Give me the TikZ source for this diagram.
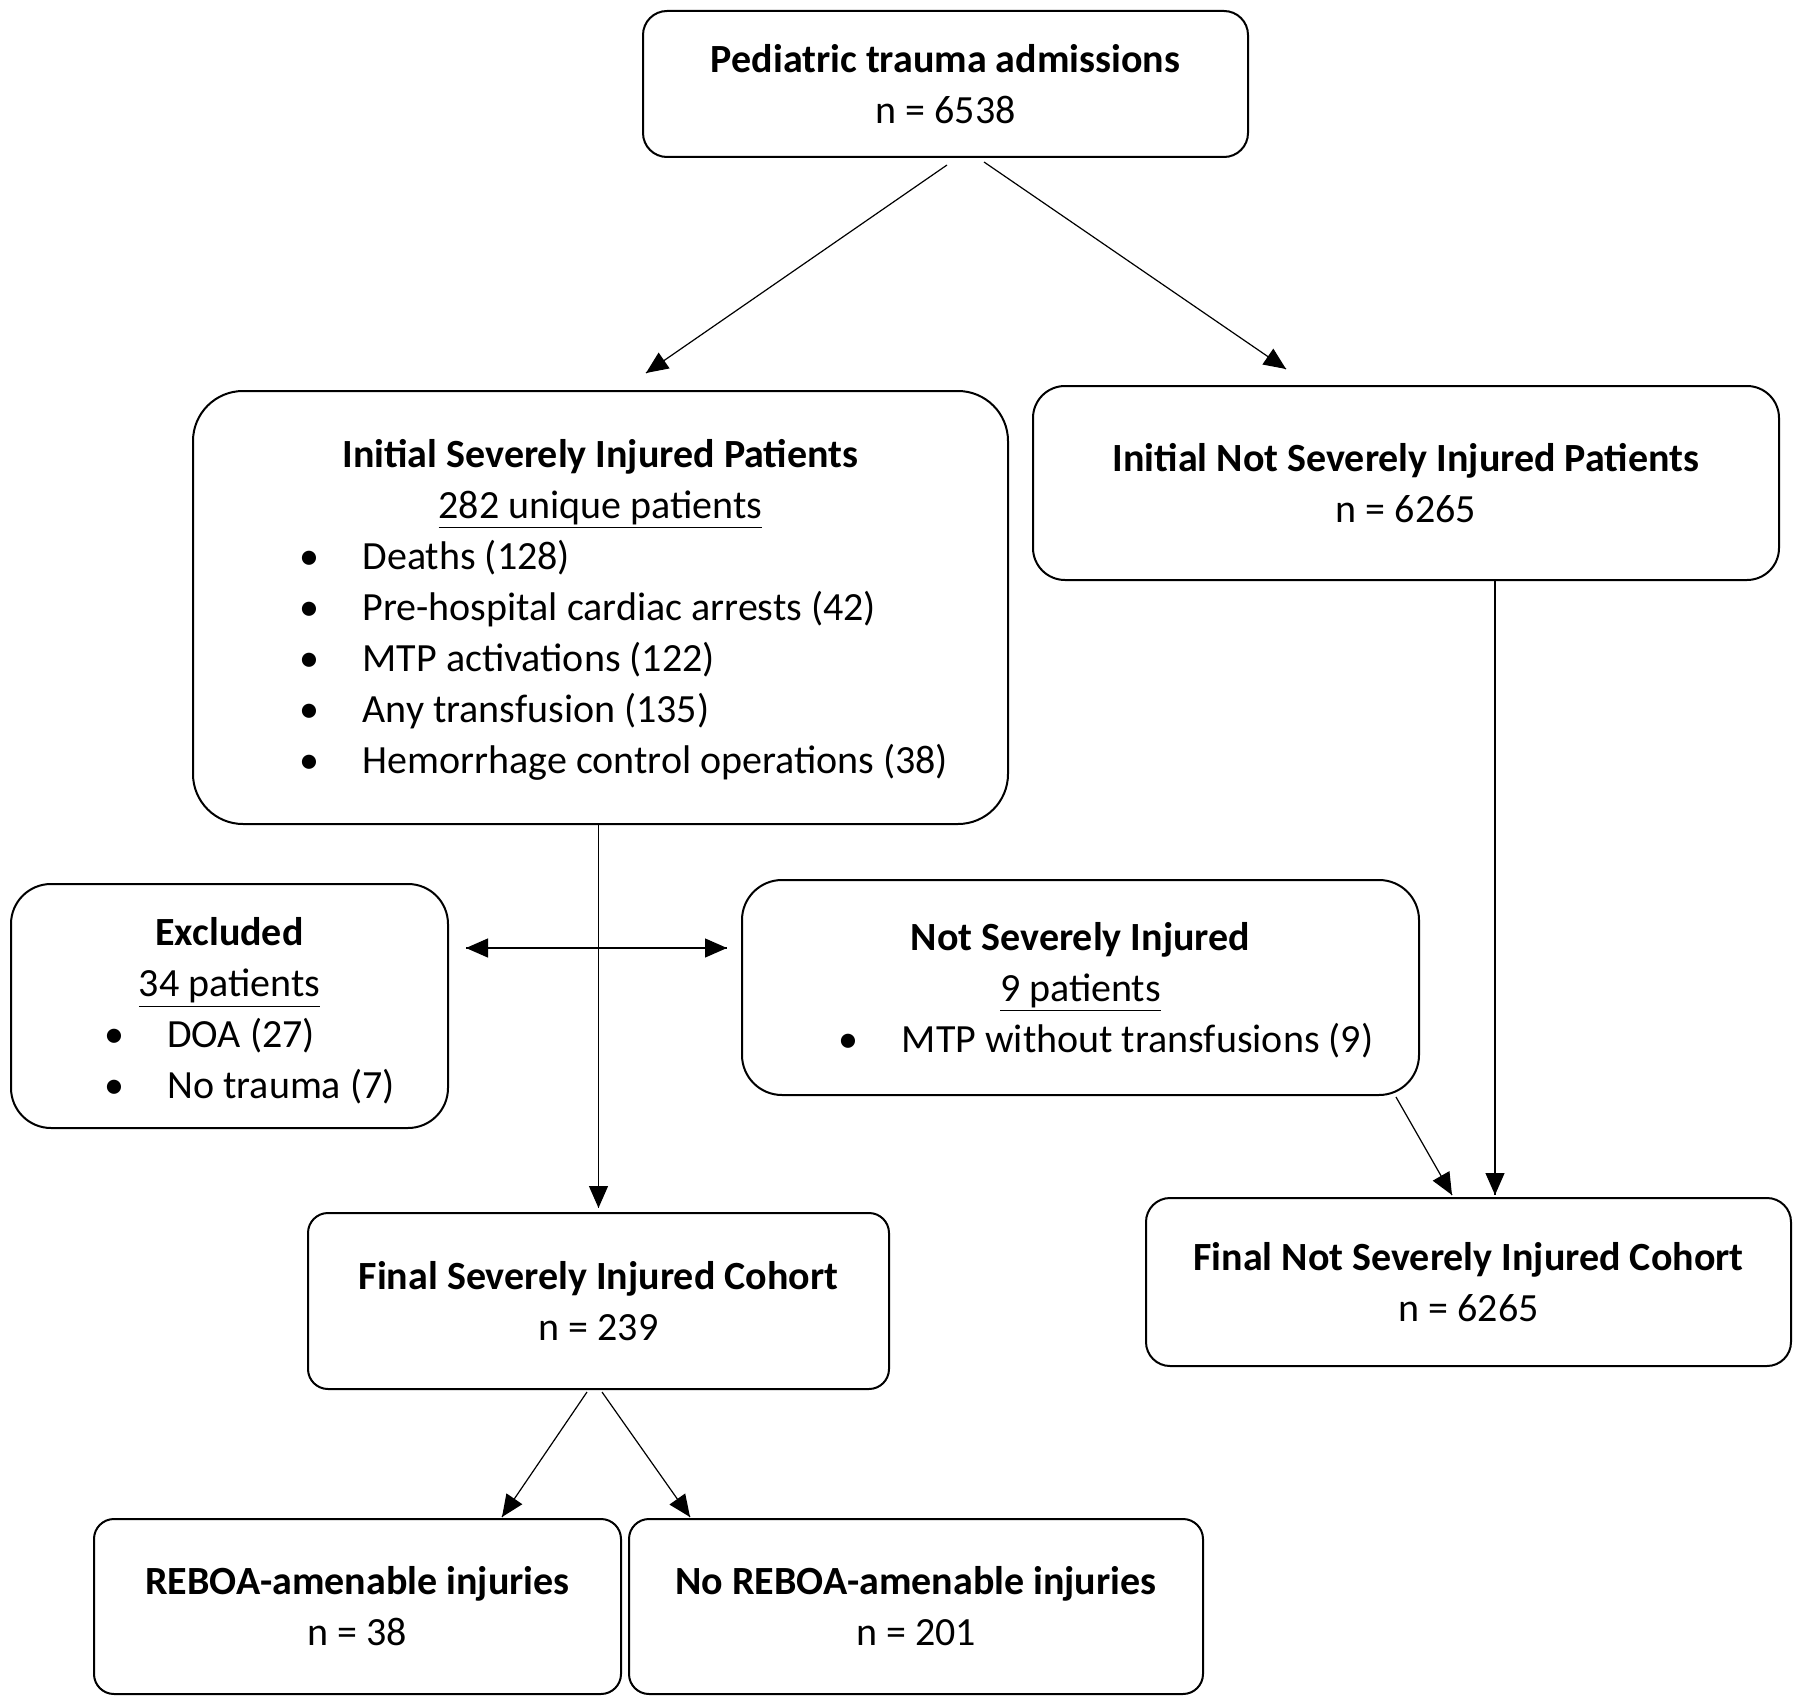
\documentclass[tikz,border=0pt]{standalone}
\usepackage{fontspec}
\setmainfont{Carlito}
\usepackage{tikz}
\usetikzlibrary{arrows.meta}
\usetikzlibrary{decorations.markings}
\usetikzlibrary{positioning}
\usetikzlibrary{calc}
\tikzset{flow/.style = {line width=0.6pt,
                        decoration={markings,
                                    mark=at position 1 with {\arrow{Triangle[length=11pt, width=9.5pt]}}},
                        postaction={decorate}}}
\tikzset{twoway/.style = {line width=0.6pt,
                          decoration={markings,
                                      mark=at position 0 with {\arrowreversed{Triangle[length=11pt, width=9.5pt]}},
                                      mark=at position 1 with {\arrow{Triangle[length=11pt, width=9.5pt]}}},
                          postaction={decorate}}}
\tikzset{box/.style = {draw, line width=1pt, rounded corners=#1, inner sep=0pt,
                       align=center, font=\fontsize{20}{25.5}\selectfont},
         box/.default = 12pt}
\newcommand{\bulletrows}[1]{\begin{tabular}[t]{@{}p{31.5pt}@{}l@{}}#1\end{tabular}}

\begin{document}
\begin{tikzpicture}[x=0.5pt, y=-0.5pt]
    \useasboundingbox (0, 0) rectangle (1800, 1702);
    \node [box=12pt, minimum width=302.5pt, minimum height=73pt] (top) at (945.5, 84)
        {\textbf{Pediatric trauma admissions}\\ n = 6538};
    \node [box=25pt, minimum width=407.5pt, minimum height=216.5pt] (isi) at (600.5, 607.5)
        {\rule{0pt}{20.5pt}\textbf{Initial Severely Injured Patients}\\ \underline{282 unique patients}\\
         \hspace*{23.4pt}\bulletrows{\textbullet & Deaths (128)\\
                                     \textbullet & Pre-hospital cardiac arrests (42)\\
                                     \textbullet & MTP activations (122)\\
                                     \textbullet & Any transfusion (135)\\
                                     \textbullet & Hemorrhage control operations (38)}};
    \node [box=16pt, minimum width=373pt, minimum height=97pt] (insi) at (1406, 483)
        {\textbf{Initial Not Severely Injured Patients}\\ n = 6265};
    \node [box=20pt, minimum width=218.5pt, minimum height=122pt] (exc) at (229.5, 1006)
        {\rule{0pt}{24pt}\textbf{Excluded}\\ \underline{34 patients}\\
         \hspace*{20pt}\bulletrows{\textbullet & DOA (27)\\
                                   \textbullet & No trauma (7)}};
    \node [box=20pt, minimum width=338.5pt, minimum height=107.5pt] (nsi) at (1080.5, 987.5)
        {\rule{0pt}{21.5pt}\textbf{Not Severely Injured}\\ \underline{9 patients}\\
         \hspace*{25.6pt}\bulletrows{\textbullet & MTP without transfusions (9)}};
    \node [box=10pt, minimum width=290.5pt, minimum height=88pt] (fsi) at (598.5, 1301)
        {\textbf{Final Severely Injured Cohort}\\ n = 239};
    \node [box=12pt, minimum width=322.5pt, minimum height=84pt] (fnsi) at (1468.5, 1282)
        {\textbf{Final Not Severely Injured Cohort}\\ n = 6265};
    \node [box=10pt, minimum width=263.5pt, minimum height=87.5pt] (reboa) at (357.5, 1606.5)
        {\textbf{REBOA-amenable injuries}\\ n = 38};
    \node [box=10pt, minimum width=287pt, minimum height=87.5pt] (noreboa) at (916, 1606.5)
        {\textbf{No REBOA-amenable injuries}\\ n = 201};

    % connectors
    \coordinate (v) at ($(isi.south) + (-2, 0)$);
    \coordinate (split) at ($(v) + (0, 123)$);
    \coordinate (w) at ($(insi.south) + (89, 0)$);
    \draw [flow] ($(top.south) + (1.5, 7)$) -- ($(isi.north) + (45.5, -17)$);
    \draw [flow] ($(top.south) + (38.5, 4)$) -- ($(insi.north) + (-120, -16)$);
    \draw [flow] (v) -- ($(v |- fsi.north) + (0, -4)$);
    \draw [twoway] ($(split -| exc.east) + (17, 0)$) -- ($(split -| nsi.west) + (-14, 0)$);
    \draw [flow] ($(nsi.south east) + (-24, 1)$) -- ($(fnsi.north) + (-16.5, -2)$);
    \draw [flow] (w) -- ($(w |- fnsi.north) + (0, -2)$);
    \draw [flow] ($(fsi.south) + (-11.5, 2)$) -- ($(reboa.north) + (144.5, -1)$);
    \draw [flow] ($(fsi.south) + (3.5, 2)$) -- ($(noreboa.north) + (-226, -1)$);
\end{tikzpicture}
\end{document}
